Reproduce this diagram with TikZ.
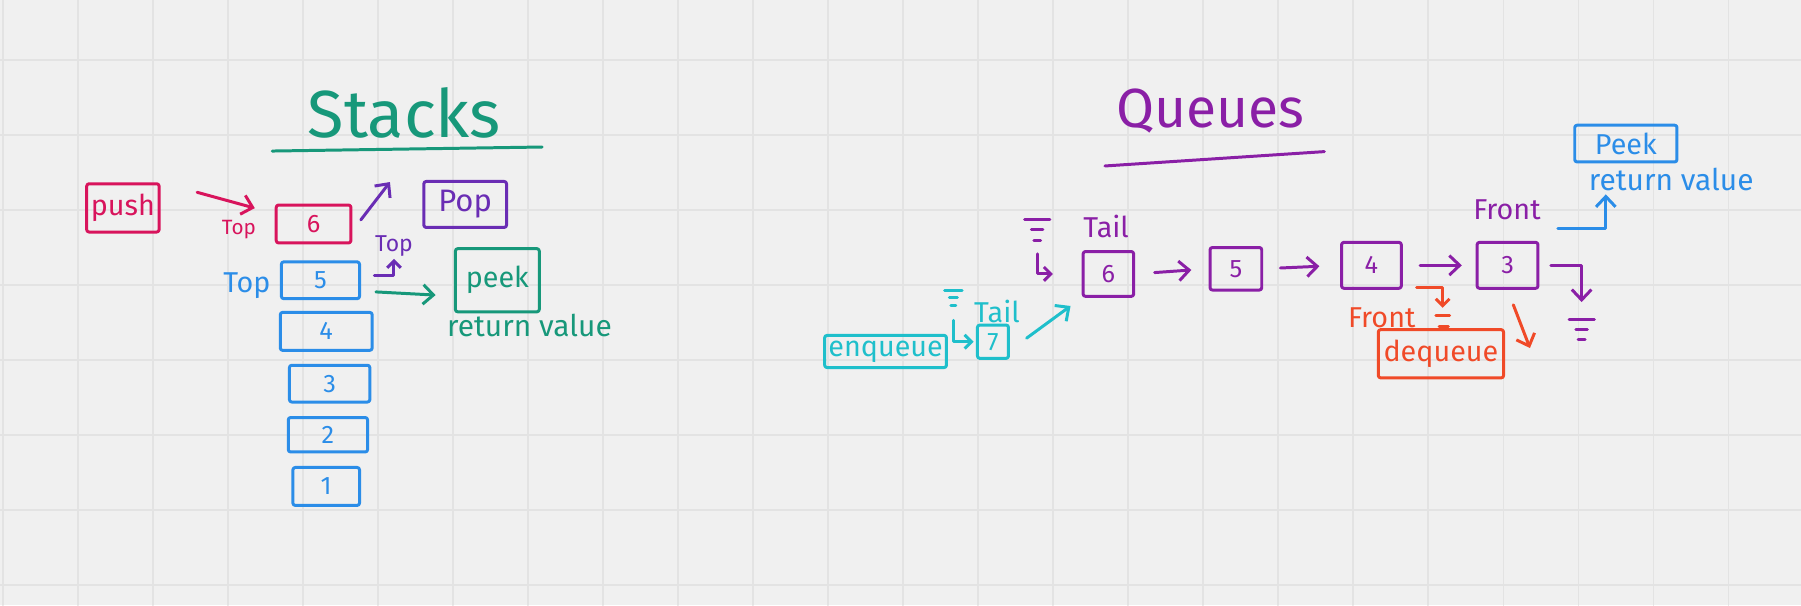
\documentclass[tikz,border=0pt]{standalone}
\usepackage{fontspec}
\setmainfont{Fira Sans}
\usepackage{xcolor}
\usepackage{tikz}
\usetikzlibrary{arrows.meta}

\definecolor{paper}{HTML}{F0F0F0}
\definecolor{gridln}{HTML}{E3E3E3}
\definecolor{stgreen}{HTML}{17987A}
\definecolor{pushred}{HTML}{D8145C}
\definecolor{poppurple}{HTML}{6A2DB4}
\definecolor{qpurple}{HTML}{8A1FA6}
\definecolor{stblue}{HTML}{2B8DE8}
\definecolor{qcyan}{HTML}{1FBFCB}
\definecolor{deqred}{HTML}{F04A28}

\tikzset{
  nullsym/.pic={\draw (-11,0) -- (11,0) (-5,9) -- (5,9) (-3,18) -- (3,18);}
}

\begin{document}
\begin{tikzpicture}[x=1pt,y=-1pt,line width=2.6pt,line cap=round,line join=round,
  >={Straight Barb[length=9pt,width=17pt]},
  tiny tip/.style={>={Straight Barb[length=6pt,width=12pt]}},
  box/.style={draw,rounded corners=2pt,inner sep=0pt},
  num/.style={font=\fontsize{22}{26}\selectfont},
  lbl/.style={inner sep=0pt,font=\fontsize{25}{29}\selectfont},
  toplbl/.style={inner sep=0pt,font=\fontsize{18}{21}\selectfont},
  heading/.style={inner sep=0pt}]
\fill[paper] (0,0) rectangle (1568,527);
\useasboundingbox (0,0) rectangle (1568,527);
\foreach \gx in {2.6,67.9,...,1568}
  \draw[gridln,line width=1pt] (\gx,0) -- (\gx,527);
\foreach \gy in {52.2,117.5,...,527}
  \draw[gridln,line width=1pt] (0,\gy) -- (1568,\gy);

% Stacks
\node[heading,stgreen,font=\fontsize{58}{64}\selectfont] (stacksT) at (352,98) {Stacks};
\draw[stgreen] (237,131.5) -- (472,128);

\node[box,pushred,lbl,minimum width=63pt,minimum height=42pt] (push) at (107,181) {push};
\node[toplbl,pushred]                    (topR) at (208,200) {Top};
\node[box,pushred,num,minimum width=65pt,minimum height=33pt] (s6) at (273,195) {6};
\node[box,poppurple,font=\fontsize{27}{31}\selectfont,minimum width=72pt,minimum height=40pt] (pop) at (405,178) {Pop};
\node[toplbl,poppurple,font=\fontsize{20}{24}\selectfont] (topP) at (343,214) {Top};
\node[lbl,stblue]                        (topB) at (215,249) {Top};
\node[box,stblue,num,minimum width=68pt,minimum height=32pt] (s5) at (279,244) {5};
\node[box,stgreen,lbl,minimum width=73pt,minimum height=55pt] (peek) at (433,244) {peek};
\node[lbl,stgreen,font=\fontsize{26}{30}\selectfont] (retS) at (461,283) {return value};
\node[box,stblue,num,minimum width=80pt,minimum height=33pt] (s4) at (284,288.5) {4};
\node[box,stblue,num,minimum width=70pt,minimum height=32pt] (s3) at (287,334) {3};
\node[box,stblue,num,minimum width=69pt,minimum height=30pt] (s2) at (285.5,378.5) {2};
\node[box,stblue,num,minimum width=58pt,minimum height=33pt] (s1) at (284,423.5) {1};

\coordinate (popto) at (339.5,158.5);
\coordinate (topin) at (326,239.5);

\path[->]
  (push.north east) edge[pushred,shorten <=33pt,shorten >=18pt] (s6.165)
  (s6.-10)          edge[poppurple,shorten <=12pt]               (popto)
  (s5.-15)          edge[stgreen,shorten <=13pt,shorten >=16pt]  (peek.200);
\draw[poppurple,->,tiny tip,shorten >=1pt] (topin) -| (topP.south);

% Queues
\node[heading,qpurple,font=\fontsize{48}{54}\selectfont] (queuesT) at (1054,97) {Queues};
\draw[qpurple] (962,144.5) -- (1153,132);

\node[box,qcyan,lbl,minimum width=106pt,minimum height=28pt] (enq) at (771,306) {enqueue};
\node[lbl,qcyan]                          (tailC) at (868,271) {Tail};
\node[box,qcyan,num,minimum width=27pt,minimum height=29pt] (q7) at (864.5,297.5) {7};
\node[lbl,qpurple]                        (tailP) at (963,197) {Tail};
\node[box,qpurple,num,minimum width=44pt,minimum height=39pt] (q6) at (965,238.5) {6};
\node[box,qpurple,num,minimum width=45pt,minimum height=37pt] (q5) at (1076,234) {5};
\node[box,qpurple,num,minimum width=52pt,minimum height=40pt] (q4) at (1194,231) {4};
\node[box,qpurple,num,minimum width=53pt,minimum height=40pt] (q3) at (1312.5,231) {3};
\node[lbl,qpurple]                        (frontP) at (1312,183) {Front};
\node[lbl,deqred]                         (frontR) at (1203,277) {Front};
\node[box,deqred,lbl,minimum width=109pt,minimum height=42pt] (deq) at (1254.5,308) {dequeue};
\node[box,stblue,lbl,minimum width=89pt,minimum height=32pt] (peekQ) at (1415.5,125) {Peek};
\node[lbl,stblue,font=\fontsize{26}{30}\selectfont] (retQ) at (1455,156) {return value};

\coordinate (nullC) at (830,253);
\coordinate (nullP) at (903,191);
\coordinate (nullR) at (1256,275);
\coordinate (nullQ) at (1377,278);
\coordinate (deqout) at (1332,303);

\pic[qcyan,scale=0.7] at (nullC) {nullsym};
\pic[qpurple] at (nullP) {nullsym};
\pic[qpurple] at (nullQ) {nullsym};
\draw[deqred] (1250,275) -- (1262,275) (1253,284) -- (1261,284);

\path[->]
  (q7.-27) edge[qcyan,shorten <=18pt,shorten >=12pt]   (q6.south west)
  (q6.east) edge[qpurple,shorten <=17pt,shorten >=15pt] (q5.west)
  (q5.east) edge[qpurple,shorten <=15pt,shorten >=18pt] (q4.west)
  (q4.east) edge[qpurple,shorten <=15pt,shorten >=12pt] (q3.west)
  (q3.south) edge[deqred,shorten <=14pt]                (deqout);
\draw[qcyan,->,tiny tip,shorten <=26pt,shorten >=2pt] (nullC) |- (q7.west);
\draw[qpurple,->,tiny tip,shorten <=30pt,shorten >=25pt] (nullP) |- (q6.west);
\draw[deqred,->,tiny tip,shorten <=12pt,shorten >=7pt] (q4.-35) -| (nullR);
\draw[qpurple,->,shorten <=10pt,shorten >=15pt] (q3.east) -| (nullQ);
\draw[stblue,->,shorten >=2pt] ([shift={(16,-11)}]q3.north east) -| ([xshift=16pt]retQ.south west);
\end{tikzpicture}
\end{document}
